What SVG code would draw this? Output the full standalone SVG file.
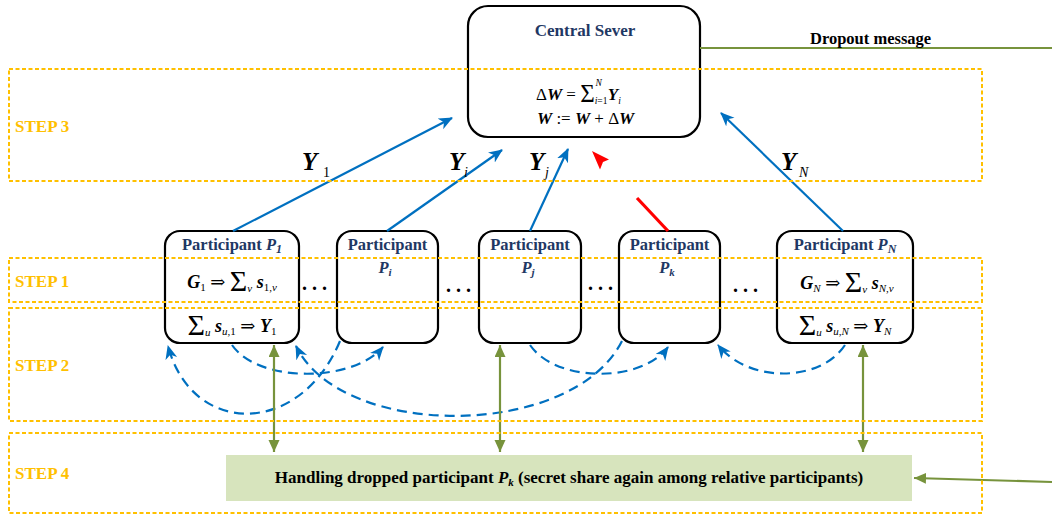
<svg xmlns="http://www.w3.org/2000/svg" width="1052" height="517" viewBox="0 0 1052 517" font-family="'Liberation Serif', 'DejaVu Serif', serif">
  <style>
    text { font-family: 'Liberation Serif', 'DejaVu Serif', serif; }
    .box { fill: #ffffff; stroke: #000000; stroke-width: 2.2; }
    .step { fill: none; stroke: #FFC000; stroke-width: 2; stroke-dasharray: 4 2.5; }
    .steplbl { font-size: 17px; font-weight: bold; fill: #FFC000; }
    .title { font-size: 16.5px; font-weight: bold; fill: #1F3864; }
    .bi { font-weight: bold; font-style: italic; }
    .it { font-style: italic; }
    .f { font-size: 18px; fill: #000000; }
    .sub { font-size: 11px; }
    .sig { font-size: 30px; }
    .ylbl { font-size: 25px; font-weight: bold; font-style: italic; fill: #000000; }
    .ysub { font-size: 14px; fill: #000000; }
    .dots { font-size: 20px; font-weight: bold; fill: #000000; }
    .up { fill: none; stroke: #0070C0; stroke-width: 2.2; marker-end: url(#blueHead); }
    .share { fill: none; stroke: #0070C0; stroke-width: 2.2; stroke-dasharray: 10 6; marker-end: url(#blueHead); }
    .green { fill: none; stroke: #77933C; stroke-width: 2.2; }
  </style>
  <defs>
    <marker id="blueHead" markerUnits="userSpaceOnUse" markerWidth="16" markerHeight="14" refX="13" refY="6" orient="auto">
      <path d="M0,0 L14,6 L0,12 L4,6 z" fill="#0070C0"/>
    </marker>
    <marker id="greenHead" markerUnits="userSpaceOnUse" markerWidth="14" markerHeight="12" refX="12" refY="5.5" orient="auto-start-reverse">
      <path d="M0,0 L12,5.5 L0,11 z" fill="#77933C"/>
    </marker>
  </defs>

  <rect width="1052" height="517" fill="#ffffff"/>

  <!-- central server -->
  <g id="server">
    <rect class="box" x="468" y="6" width="232" height="131" rx="20"/>
    <text x="585" y="36" text-anchor="middle" font-size="17" font-weight="bold" fill="#1F3864">Central Sever</text>
    <text x="536" y="100" style="font-size:17px">Δ<tspan class="bi">W</tspan> = <tspan style="font-size:25px" dy="2">Σ</tspan><tspan style="font-size:9.5px" dy="2"><tspan class="it">i</tspan>=1</tspan><tspan class="it" style="font-size:9.5px" dx="-12" dy="-18">N</tspan><tspan class="bi" dx="6" dy="14">Y</tspan><tspan class="it" style="font-size:9.5px" dy="4">i</tspan></text>
    <text x="537" y="124" style="font-size:17px"><tspan class="bi">W</tspan> := <tspan class="bi">W</tspan> + Δ<tspan class="bi">W</tspan></text>
  </g>

  <!-- participants -->
  <g id="p1">
    <rect class="box" x="165" y="231" width="134" height="112" rx="15"/>
    <text class="title" x="232" y="250" text-anchor="middle">Participant <tspan font-style="italic">P<tspan font-size="12" dy="3">1</tspan></tspan></text>
    <text class="f" x="232" y="288" text-anchor="middle"><tspan class="bi">G</tspan><tspan class="sub" dy="3">1</tspan><tspan dy="-3"> ⇒ </tspan><tspan class="sig" dy="3">Σ</tspan><tspan class="sub it" dy="1">v</tspan><tspan class="bi" dy="-4"> s</tspan><tspan class="sub" dy="3">1,<tspan class="it">v</tspan></tspan></text>
    <text class="f" x="232" y="332" text-anchor="middle"><tspan class="sig" dy="3">Σ</tspan><tspan class="sub it" dy="1">u</tspan><tspan class="bi" dy="-4"> s</tspan><tspan class="sub" dy="3"><tspan class="it">u</tspan>,1</tspan><tspan dy="-3"> ⇒ </tspan><tspan class="bi">Y</tspan><tspan class="sub" dy="3">1</tspan></text>
  </g>
  <g id="pi">
    <rect class="box" x="337" y="231" width="101" height="112" rx="15"/>
    <text class="title" x="387.5" y="250" text-anchor="middle">Participant</text>
    <text class="title" x="385" y="273" text-anchor="middle" font-style="italic">P<tspan font-size="11" dy="3">i</tspan></text>
  </g>
  <g id="pj">
    <rect class="box" x="479" y="231" width="102" height="112" rx="15"/>
    <text class="title" x="530" y="250" text-anchor="middle">Participant</text>
    <text class="title" x="528" y="273" text-anchor="middle" font-style="italic">P<tspan font-size="11" dy="3">j</tspan></text>
  </g>
  <g id="pk">
    <rect class="box" x="619" y="231" width="101" height="112" rx="15"/>
    <text class="title" x="669.5" y="250" text-anchor="middle">Participant</text>
    <text class="title" x="667" y="273" text-anchor="middle" font-style="italic">P<tspan font-size="11" dy="3">k</tspan></text>
  </g>
  <g id="pn">
    <rect class="box" x="777" y="231" width="136" height="112" rx="15"/>
    <text class="title" x="845" y="250" text-anchor="middle">Participant <tspan font-style="italic">P<tspan font-size="12" dy="3">N</tspan></tspan></text>
    <text class="f" x="847" y="289" text-anchor="middle"><tspan class="bi">G</tspan><tspan class="sub it" dy="3">N</tspan><tspan dy="-3"> ⇒ </tspan><tspan class="sig" dy="3">Σ</tspan><tspan class="sub it" dy="1">v</tspan><tspan class="bi" dy="-4"> s</tspan><tspan class="sub" dy="3"><tspan class="it">N</tspan>,<tspan class="it">v</tspan></tspan></text>
    <text class="f" x="845" y="332" text-anchor="middle"><tspan class="sig" dy="3">Σ</tspan><tspan class="sub it" dy="1">u</tspan><tspan class="bi" dy="-4"> s</tspan><tspan class="sub" dy="3"><tspan class="it">u</tspan>,<tspan class="it">N</tspan></tspan><tspan dy="-3"> ⇒ </tspan><tspan class="bi">Y</tspan><tspan class="sub it" dy="3">N</tspan></text>
  </g>

  <!-- ellipses between participants -->
  <g id="ellipses">
    <text class="dots" x="302" y="290">. . .</text>
    <text class="dots" x="446" y="292">. . .</text>
    <text class="dots" x="588" y="290">. . .</text>
    <text class="dots" x="733" y="292">. . .</text>
  </g>

  <!-- handling dropped participant -->
  <g id="handling">
    <rect x="226" y="455" width="686" height="46" fill="#D7E4BD"/>
    <text x="569" y="483" text-anchor="middle" font-size="17" font-weight="bold" fill="#000000">Handling dropped participant <tspan font-style="italic">P<tspan font-size="11" dy="3">k</tspan></tspan><tspan dy="-3"> (secret share again among relative participants)</tspan></text>
  </g>

  <!-- connectors -->
  <g id="connectors">
    <!-- uploads of masked sums to the server -->
    <path class="up" d="M233,231 L452,118"/>
    <path class="up" d="M387,231 L502,150"/>
    <path class="up" d="M530,231 L568,149"/>
    <path class="up" d="M843,231 L721,113"/>
    <!-- dropped participant: broken upload -->
    <path d="M668,231 L637,198" stroke="#FF0000" stroke-width="3.2" fill="none"/>
    <polygon points="592,151 609,159.5 603,162 600,169.5" fill="#FF0000"/>
    <!-- secret sharing among participants -->
    <path class="share" d="M232,345 C258,383 352,383 383,347"/>
    <path class="share" d="M340,341 C300,437 192,437 168,346"/>
    <path class="share" d="M622,341 C572,440 342,440 296,346"/>
    <path class="share" d="M530,345 C556,383 642,383 668,347"/>
    <path class="share" d="M845,345 C820,383 748,383 718,345"/>
    <!-- dropout handling -->
    <line class="green" x1="700" y1="48" x2="1052" y2="48"/>
    <path class="green" d="M1052,482 L914,478" marker-end="url(#greenHead)"/>
    <path class="green" d="M274,345 L274,452" marker-start="url(#greenHead)" marker-end="url(#greenHead)"/>
    <path class="green" d="M500,345 L500,452" marker-start="url(#greenHead)" marker-end="url(#greenHead)"/>
    <path class="green" d="M863,345 L863,452" marker-start="url(#greenHead)" marker-end="url(#greenHead)"/>
  </g>

  <text x="810" y="44" font-size="16.5" font-weight="bold" fill="#000000">Dropout message</text>

  <!-- value labels -->
  <g id="labels">
    <text class="ylbl" x="302" y="170">Y</text><text class="ysub" x="323" y="177">1</text>
    <text class="ylbl" x="449" y="170">Y</text><text class="ysub it" x="464" y="177">i</text>
    <text class="ylbl" x="529" y="170">Y</text><text class="ysub it" x="545" y="177">j</text>
    <text class="ylbl" x="781" y="170">Y</text><text class="ysub it" x="799" y="177">N</text>
  </g>

  <!-- protocol steps -->
  <g id="steps">
    <rect class="step" x="9" y="69" width="973" height="112"/>
    <rect class="step" x="9" y="258" width="973" height="44"/>
    <rect class="step" x="9" y="308" width="973" height="113"/>
    <rect class="step" x="9" y="433" width="973" height="80"/>
    <text class="steplbl" x="15" y="132">STEP 3</text>
    <text class="steplbl" x="15" y="287">STEP 1</text>
    <text class="steplbl" x="15" y="371">STEP 2</text>
    <text class="steplbl" x="15" y="479">STEP 4</text>
  </g>
</svg>
